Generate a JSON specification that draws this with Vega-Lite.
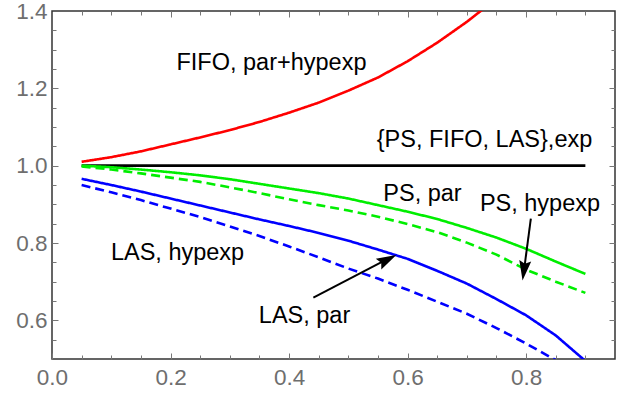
{
  "$schema": "https://vega.github.io/schema/vega-lite/v6.json",
  "width": 563,
  "height": 348,
  "autosize": "none",
  "padding": {"left": 52, "top": 11, "right": 12, "bottom": 35},
  "background": "white",
  "config": {
    "view": {"stroke": "#333333", "strokeWidth": 1.5},
    "axis": {"grid": false, "title": null, "labelFlush": false, "labelOverlap": false}
  },
  "datasets": {
    "curves": [
      {"series": "FIFO, par+hypexp", "x": 0.05, "y": 1.010},
      {"series": "FIFO, par+hypexp", "x": 0.10, "y": 1.022},
      {"series": "FIFO, par+hypexp", "x": 0.15, "y": 1.037},
      {"series": "FIFO, par+hypexp", "x": 0.20, "y": 1.055},
      {"series": "FIFO, par+hypexp", "x": 0.25, "y": 1.073},
      {"series": "FIFO, par+hypexp", "x": 0.30, "y": 1.092},
      {"series": "FIFO, par+hypexp", "x": 0.35, "y": 1.113},
      {"series": "FIFO, par+hypexp", "x": 0.40, "y": 1.137},
      {"series": "FIFO, par+hypexp", "x": 0.45, "y": 1.163},
      {"series": "FIFO, par+hypexp", "x": 0.50, "y": 1.194},
      {"series": "FIFO, par+hypexp", "x": 0.55, "y": 1.228},
      {"series": "FIFO, par+hypexp", "x": 0.60, "y": 1.270},
      {"series": "FIFO, par+hypexp", "x": 0.65, "y": 1.318},
      {"series": "FIFO, par+hypexp", "x": 0.70, "y": 1.372},
      {"series": "FIFO, par+hypexp", "x": 0.75, "y": 1.432},
      {"series": "exp", "x": 0.05, "y": 1.0},
      {"series": "exp", "x": 0.90, "y": 1.0},
      {"series": "PS, par", "x": 0.05, "y": 1.000},
      {"series": "PS, par", "x": 0.10, "y": 0.996},
      {"series": "PS, par", "x": 0.15, "y": 0.990},
      {"series": "PS, par", "x": 0.20, "y": 0.983},
      {"series": "PS, par", "x": 0.25, "y": 0.975},
      {"series": "PS, par", "x": 0.30, "y": 0.965},
      {"series": "PS, par", "x": 0.35, "y": 0.953},
      {"series": "PS, par", "x": 0.40, "y": 0.941},
      {"series": "PS, par", "x": 0.45, "y": 0.929},
      {"series": "PS, par", "x": 0.50, "y": 0.915},
      {"series": "PS, par", "x": 0.55, "y": 0.898},
      {"series": "PS, par", "x": 0.60, "y": 0.881},
      {"series": "PS, par", "x": 0.65, "y": 0.862},
      {"series": "PS, par", "x": 0.70, "y": 0.839},
      {"series": "PS, par", "x": 0.75, "y": 0.814},
      {"series": "PS, par", "x": 0.80, "y": 0.785},
      {"series": "PS, par", "x": 0.85, "y": 0.752},
      {"series": "PS, par", "x": 0.90, "y": 0.720},
      {"series": "PS, hypexp", "x": 0.05, "y": 0.998},
      {"series": "PS, hypexp", "x": 0.10, "y": 0.990},
      {"series": "PS, hypexp", "x": 0.15, "y": 0.980},
      {"series": "PS, hypexp", "x": 0.20, "y": 0.969},
      {"series": "PS, hypexp", "x": 0.25, "y": 0.958},
      {"series": "PS, hypexp", "x": 0.30, "y": 0.944},
      {"series": "PS, hypexp", "x": 0.35, "y": 0.929},
      {"series": "PS, hypexp", "x": 0.40, "y": 0.913},
      {"series": "PS, hypexp", "x": 0.45, "y": 0.898},
      {"series": "PS, hypexp", "x": 0.50, "y": 0.884},
      {"series": "PS, hypexp", "x": 0.55, "y": 0.868},
      {"series": "PS, hypexp", "x": 0.60, "y": 0.849},
      {"series": "PS, hypexp", "x": 0.65, "y": 0.828},
      {"series": "PS, hypexp", "x": 0.70, "y": 0.801},
      {"series": "PS, hypexp", "x": 0.75, "y": 0.770},
      {"series": "PS, hypexp", "x": 0.80, "y": 0.731},
      {"series": "PS, hypexp", "x": 0.85, "y": 0.700},
      {"series": "PS, hypexp", "x": 0.90, "y": 0.671},
      {"series": "LAS, par", "x": 0.05, "y": 0.966},
      {"series": "LAS, par", "x": 0.10, "y": 0.950},
      {"series": "LAS, par", "x": 0.15, "y": 0.933},
      {"series": "LAS, par", "x": 0.20, "y": 0.915},
      {"series": "LAS, par", "x": 0.25, "y": 0.897},
      {"series": "LAS, par", "x": 0.30, "y": 0.879},
      {"series": "LAS, par", "x": 0.35, "y": 0.861},
      {"series": "LAS, par", "x": 0.40, "y": 0.844},
      {"series": "LAS, par", "x": 0.45, "y": 0.826},
      {"series": "LAS, par", "x": 0.50, "y": 0.806},
      {"series": "LAS, par", "x": 0.55, "y": 0.783},
      {"series": "LAS, par", "x": 0.60, "y": 0.759},
      {"series": "LAS, par", "x": 0.65, "y": 0.728},
      {"series": "LAS, par", "x": 0.70, "y": 0.695},
      {"series": "LAS, par", "x": 0.75, "y": 0.655},
      {"series": "LAS, par", "x": 0.80, "y": 0.613},
      {"series": "LAS, par", "x": 0.85, "y": 0.561},
      {"series": "LAS, par", "x": 0.90, "y": 0.495},
      {"series": "LAS, hypexp", "x": 0.05, "y": 0.950},
      {"series": "LAS, hypexp", "x": 0.10, "y": 0.931},
      {"series": "LAS, hypexp", "x": 0.15, "y": 0.911},
      {"series": "LAS, hypexp", "x": 0.20, "y": 0.889},
      {"series": "LAS, hypexp", "x": 0.25, "y": 0.867},
      {"series": "LAS, hypexp", "x": 0.30, "y": 0.843},
      {"series": "LAS, hypexp", "x": 0.35, "y": 0.818},
      {"series": "LAS, hypexp", "x": 0.40, "y": 0.791},
      {"series": "LAS, hypexp", "x": 0.45, "y": 0.763},
      {"series": "LAS, hypexp", "x": 0.50, "y": 0.734},
      {"series": "LAS, hypexp", "x": 0.55, "y": 0.708},
      {"series": "LAS, hypexp", "x": 0.60, "y": 0.679},
      {"series": "LAS, hypexp", "x": 0.65, "y": 0.648},
      {"series": "LAS, hypexp", "x": 0.70, "y": 0.617},
      {"series": "LAS, hypexp", "x": 0.75, "y": 0.580},
      {"series": "LAS, hypexp", "x": 0.80, "y": 0.540},
      {"series": "LAS, hypexp", "x": 0.85, "y": 0.497}
    ],
    "labels": [
      {"label": "FIFO, par+hypexp", "x": 0.210, "y": 1.248},
      {"label": "{PS, FIFO, LAS},exp", "x": 0.548, "y": 1.048},
      {"label": "PS, par", "x": 0.559, "y": 0.908},
      {"label": "PS, hypexp", "x": 0.722, "y": 0.884},
      {"label": "LAS, hypexp", "x": 0.0994, "y": 0.757},
      {"label": "LAS, par", "x": 0.349, "y": 0.593}
    ],
    "arrows": [
      {"target": "LAS, par", "x": 0.441, "y": 0.659, "x2": 0.569, "y2": 0.761},
      {"target": "PS, hypexp", "x": 0.808, "y": 0.863, "x2": 0.796, "y2": 0.724}
    ],
    "heads": [
      {"target": "LAS, par", "x": 0.581, "y": 0.769},
      {"target": "PS, hypexp", "x": 0.794, "y": 0.703}
    ]
  },
  "data": {"name": "curves"},
  "resolve": {"axis": {"x": "independent", "y": "independent"}},
  "layer": [
    {
      "mark": {"type": "line", "clip": true, "strokeWidth": 2.6},
      "encoding": {
        "x": {"field": "x", "type": "quantitative",
              "scale": {"domain": [0, 0.95], "nice": false, "zero": false},
              "axis": {"orient": "bottom", "values": [0, 0.2, 0.4, 0.6, 0.8], "format": ".1f",
                       "ticks": false, "domain": false, "labelFont": "Liberation Sans",
                       "labelFontSize": 22.5, "labelColor": "#6e6e6e", "labelPadding": 7}},
        "y": {"field": "y", "type": "quantitative",
              "scale": {"domain": [0.5, 1.4], "nice": false, "zero": false},
              "axis": {"orient": "left", "values": [0.6, 0.8, 1.0, 1.2, 1.4], "format": ".1f",
                       "ticks": false, "domain": false, "labelFont": "Liberation Sans",
                       "labelFontSize": 22.5, "labelColor": "#6e6e6e", "labelPadding": 5}},
        "color": {"field": "series", "type": "nominal", "legend": null,
                  "scale": {"domain": ["FIFO, par+hypexp", "exp", "PS, par", "PS, hypexp", "LAS, par", "LAS, hypexp"],
                            "range": ["#ff0000", "#000000", "#00ee00", "#00ee00", "#0000ff", "#0000ff"]}},
        "strokeWidth": {"field": "series", "type": "nominal", "legend": null,
                  "scale": {"domain": ["FIFO, par+hypexp", "exp", "PS, par", "PS, hypexp", "LAS, par", "LAS, hypexp"],
                            "range": [3, 2.8, 2.5, 2.5, 2.5, 2.5]}},
        "strokeDash": {"field": "series", "type": "nominal", "legend": null,
                  "scale": {"domain": ["FIFO, par+hypexp", "exp", "PS, par", "PS, hypexp", "LAS, par", "LAS, hypexp"],
                            "range": [[1, 0], [1, 0], [1, 0], [9, 5], [1, 0], [9, 5]]}}
      }
    },
    {
      "mark": {"type": "point", "opacity": 0},
      "encoding": {
        "x": {"field": "x", "type": "quantitative",
              "axis": {"orient": "bottom", "values": [0, 0.2, 0.4, 0.6, 0.8], "labels": false, "domain": false,
                       "tickSize": -6, "tickColor": "#777777", "tickWidth": 1}},
        "y": {"field": "y", "type": "quantitative",
              "axis": {"orient": "left", "values": [0.6, 0.8, 1.0, 1.2], "labels": false, "domain": false,
                       "tickSize": -6, "tickColor": "#777777", "tickWidth": 1}}
      }
    },
    {
      "mark": {"type": "point", "opacity": 0},
      "encoding": {
        "x": {"field": "x", "type": "quantitative",
              "axis": {"orient": "bottom", "values": [0.05, 0.1, 0.15, 0.25, 0.3, 0.35, 0.45, 0.5, 0.55, 0.65, 0.7, 0.75, 0.85, 0.9], "labels": false, "domain": false,
                       "tickSize": -4, "tickColor": "#777777", "tickWidth": 1}},
        "y": {"field": "y", "type": "quantitative",
              "axis": {"orient": "left", "values": [0.55, 0.65, 0.7, 0.75, 0.85, 0.9, 0.95, 1.05, 1.1, 1.15, 1.25, 1.3, 1.35], "labels": false, "domain": false,
                       "tickSize": -4, "tickColor": "#777777", "tickWidth": 1}}
      }
    },
    {
      "mark": {"type": "point", "opacity": 0},
      "encoding": {
        "x": {"field": "x", "type": "quantitative",
              "axis": {"orient": "top", "values": [0.2, 0.4, 0.6, 0.8], "labels": false, "domain": false,
                       "tickSize": -6, "tickColor": "#777777", "tickWidth": 1}},
        "y": {"field": "y", "type": "quantitative",
              "axis": {"orient": "right", "values": [0.6, 0.8, 1.0, 1.2], "labels": false, "domain": false,
                       "tickSize": -6, "tickColor": "#777777", "tickWidth": 1}}
      }
    },
    {
      "mark": {"type": "point", "opacity": 0},
      "encoding": {
        "x": {"field": "x", "type": "quantitative",
              "axis": {"orient": "top", "values": [0.05, 0.1, 0.15, 0.25, 0.3, 0.35, 0.45, 0.5, 0.55, 0.65, 0.7, 0.75, 0.85, 0.9], "labels": false, "domain": false,
                       "tickSize": -4, "tickColor": "#777777", "tickWidth": 1}},
        "y": {"field": "y", "type": "quantitative",
              "axis": {"orient": "right", "values": [0.55, 0.65, 0.7, 0.75, 0.85, 0.9, 0.95, 1.05, 1.1, 1.15, 1.25, 1.3, 1.35], "labels": false, "domain": false,
                       "tickSize": -4, "tickColor": "#777777", "tickWidth": 1}}
      }
    },
    {
      "data": {"name": "labels"},
      "mark": {"type": "text", "align": "left", "baseline": "alphabetic", "font": "Liberation Sans", "fontSize": 23.5, "color": "#000000"},
      "encoding": {
        "x": {"field": "x", "type": "quantitative", "axis": null},
        "y": {"field": "y", "type": "quantitative", "axis": null},
        "text": {"field": "label"}
      }
    },
    {
      "data": {"name": "arrows"},
      "mark": {"type": "rule", "color": "#000000", "strokeWidth": 2},
      "encoding": {
        "x": {"field": "x", "type": "quantitative", "axis": null},
        "y": {"field": "y", "type": "quantitative", "axis": null},
        "x2": {"field": "x2"},
        "y2": {"field": "y2"}
      }
    },
    {
      "data": {"name": "heads"},
      "transform": [{"filter": "datum.target == 'LAS, par'"}],
      "mark": {"type": "point", "filled": true, "opacity": 1, "color": "#000000", "size": 400, "angle": 62.6,
               "shape": "M0,0L0.6,2L0,1.7L-0.6,2Z"},
      "encoding": {
        "x": {"field": "x", "type": "quantitative", "axis": null},
        "y": {"field": "y", "type": "quantitative", "axis": null}
      }
    },
    {
      "data": {"name": "heads"},
      "transform": [{"filter": "datum.target == 'PS, hypexp'"}],
      "mark": {"type": "point", "filled": true, "opacity": 1, "color": "#000000", "size": 400, "angle": 187.8,
               "shape": "M0,0L0.6,2L0,1.7L-0.6,2Z"},
      "encoding": {
        "x": {"field": "x", "type": "quantitative", "axis": null},
        "y": {"field": "y", "type": "quantitative", "axis": null}
      }
    }
  ]
}
